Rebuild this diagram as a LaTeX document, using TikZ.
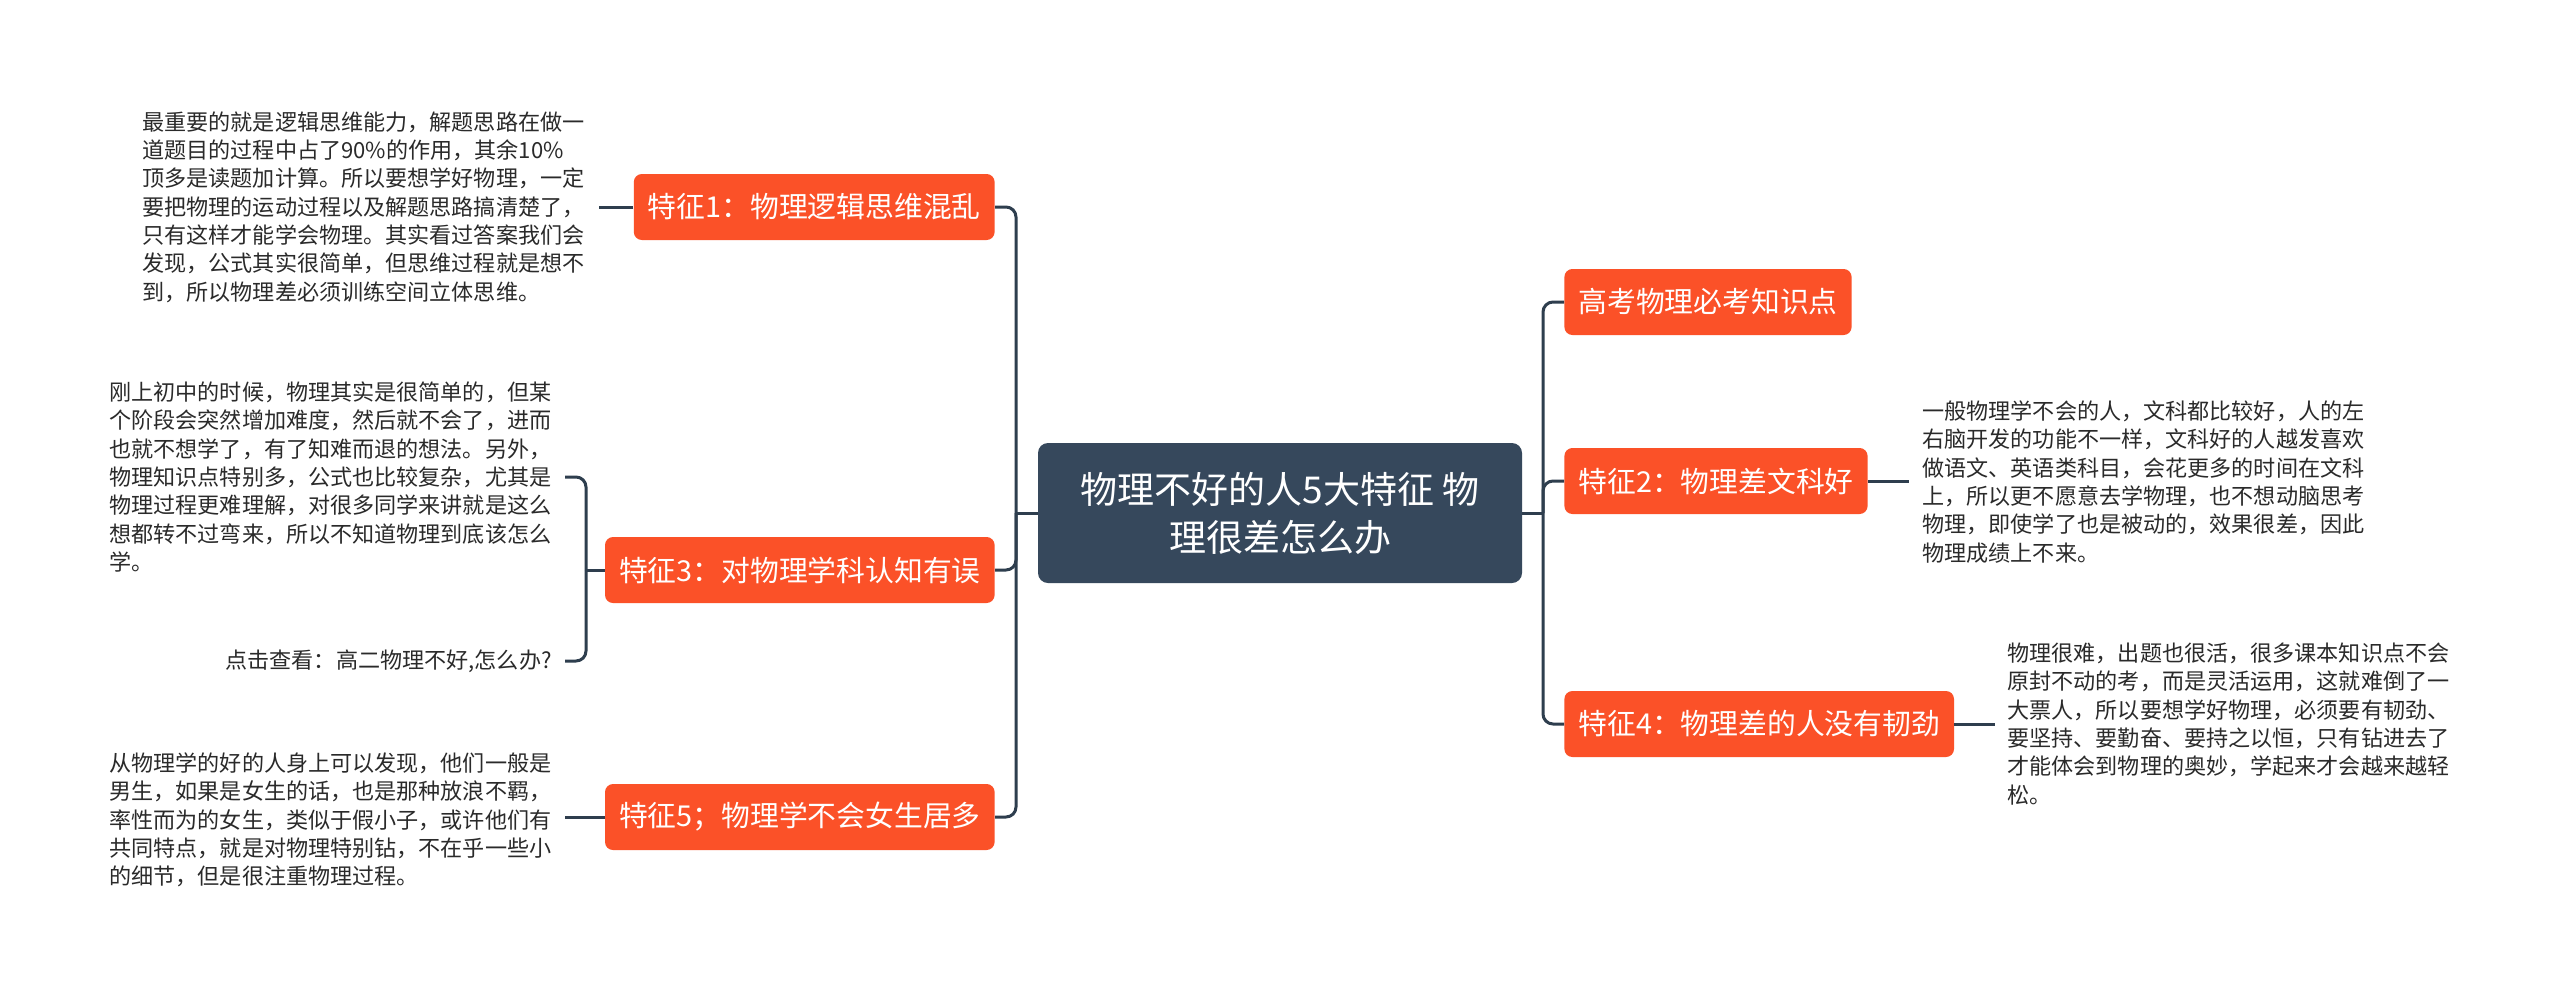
\documentclass[tikz,border=0pt]{standalone}
\usepackage{fontspec}
\setmainfont{Noto Sans CJK SC}
\definecolor{orangebox}{HTML}{FB5128}
\definecolor{centerbox}{HTML}{36485C}
\definecolor{linecol}{HTML}{2E3E4E}
\definecolor{desccol}{HTML}{2A2A2A}
\begin{document}
\begin{tikzpicture}[x=0.5pt,y=-0.5pt,
  topic/.style={fill=orangebox, text=white, rounded corners=4pt, minimum height=33pt, inner xsep=7pt, inner ysep=0pt, font=\fontsize{14.4}{16}\selectfont},
  root/.style={fill=centerbox, text=white, rounded corners=5pt, minimum width=242pt, minimum height=70pt, align=center, font=\fontsize{18.5}{24}\selectfont},
  desctext/.style={text=desccol, align=left, inner sep=0pt, font=\fontsize{11.05}{14.15}\selectfont},
  conn/.style={draw=linecol, line width=1.5pt, rounded corners=5pt}]
\useasboundingbox (0,0) rectangle (2560,998);
\fill[white] (0,0) rectangle (2560,998);

\node[root] (root) at (1280,513) {物理不好的人5大特征 物\\理很差怎么办};

\node[topic, anchor=west] (gk) at (1564,302) {高考物理必考知识点};
\node[topic, anchor=west] (f2) at (1564,481) {特征2：物理差文科好};
\node[topic, anchor=west] (f4) at (1564,724) {特征4：物理差的人没有韧劲};
\node[topic, anchor=east] (f1) at (995,207) {特征1：物理逻辑思维混乱};
\node[topic, anchor=east] (f3) at (995,570) {特征3：对物理学科认知有误};
\node[topic, anchor=east] (f5) at (995,817) {特征5；物理学不会女生居多};

\node[desctext, anchor=west] (d1) at (142,207) {最重要的就是逻辑思维能力，解题思路在做一\\道题目的过程中占了90\%的作用，其余10\%\\顶多是读题加计算。所以要想学好物理，一定\\要把物理的运动过程以及解题思路搞清楚了，\\只有这样才能学会物理。其实看过答案我们会\\发现，公式其实很简单，但思维过程就是想不\\到，所以物理差必须训练空间立体思维。};
\node[desctext, anchor=west] (d3) at (109,477) {刚上初中的时候，物理其实是很简单的，但某\\个阶段会突然增加难度，然后就不会了，进而\\也就不想学了，有了知难而退的想法。另外，\\物理知识点特别多，公式也比较复杂，尤其是\\物理过程更难理解，对很多同学来讲就是这么\\想都转不过弯来，所以不知道物理到底该怎么\\学。};
\node[desctext, anchor=east] (d3b) at (552,661) {点击查看：高二物理不好,怎么办?};
\node[desctext, anchor=west] (d5) at (109,820) {从物理学的好的人身上可以发现，他们一般是\\男生，如果是女生的话，也是那种放浪不羁，\\率性而为的女生，类似于假小子，或许他们有\\共同特点，就是对物理特别钻，不在乎一些小\\的细节，但是很注重物理过程。};
\node[desctext, anchor=west] (d2) at (1922,482) {一般物理学不会的人，文科都比较好，人的左\\右脑开发的功能不一样，文科好的人越发喜欢\\做语文、英语类科目，会花更多的时间在文科\\上，所以更不愿意去学物理，也不想动脑思考\\物理，即使学了也是被动的，效果很差，因此\\物理成绩上不来。};
\node[desctext, anchor=west] (d4) at (2007,724) {物理很难，出题也很活，很多课本知识点不会\\原封不动的考，而是灵活运用，这就难倒了一\\大票人，所以要想学好物理，必须要有韧劲、\\要坚持、要勤奋、要持之以恒，只有钻进去了\\才能体会到物理的奥妙，学起来才会越来越轻\\松。};

\coordinate (rj) at (1543,513);
\coordinate (lj) at (1016,513);
\coordinate (e1) at (599,207);
\coordinate (j3) at (586,570);
\coordinate (e3a) at (565,477);
\coordinate (e3b) at (565,661);
\coordinate (e5) at (565,817);
\coordinate (e2) at (1909,481);
\coordinate (e4) at (1995,724);

\draw[conn] (root.east) -- (rj);
\draw[conn] (rj) |- (gk.west);
\draw[conn] (rj) |- (f2.west);
\draw[conn] (rj) |- (f4.west);
\draw[conn] (root.west) -- (lj);
\draw[conn] (lj) |- (f1.east);
\draw[conn] (lj) |- (f3.east);
\draw[conn] (lj) |- (f5.east);
\draw[conn] (f1.west) -- (e1);
\draw[conn] (f3.west) -- (j3);
\draw[conn] (j3) |- (e3a);
\draw[conn] (j3) |- (e3b);
\draw[conn] (f5.west) -- (e5);
\draw[conn] (f2.east) -- (e2);
\draw[conn] (f4.east) -- (e4);
\end{tikzpicture}
\end{document}
